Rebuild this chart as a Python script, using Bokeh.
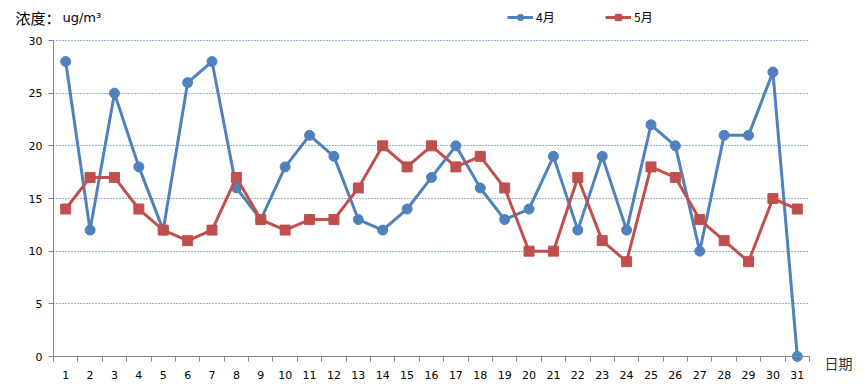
from bokeh.plotting import figure
from bokeh.models import Range1d, FixedTicker, Legend, LegendItem, Label
from bokeh.embed import file_html
from bokeh.resources import INLINE

days = list(range(1, 32))
april = [28, 12, 25, 18, 12, 26, 28, 16, 13, 18, 21, 19, 13, 12, 14, 17,
         20, 16, 13, 14, 19, 12, 19, 12, 22, 20, 10, 21, 21, 27, 0]
may = [14, 17, 17, 14, 12, 11, 12, 17, 13, 12, 13, 13, 16, 20, 18, 20,
       18, 19, 16, 10, 10, 17, 11, 9, 18, 17, 13, 11, 9, 15, 14]
y_ticks = [0, 5, 10, 15, 20, 25, 30]
series_names = ["4月", "5月"]
y_title_cn = "浓度："
y_title_unit = "ug/m³"
x_title = "日期"

BLUE = "#4F81BD"
RED = "#C0504D"
GRID = "#2F64AE"
AXIS = "#868686"
CJK = "Noto Sans CJK SC"
NUM = "DejaVu Sans"

# layout (pixels): whole canvas and the data area inside it
W, H = 865, 392
AL, AR, AT, AB = 53, 809, 40, 356

x0, x1 = days[0] - 0.5, days[-1] + 0.5
y0, y1 = y_ticks[0], y_ticks[-1]
kx = (x1 - x0) / (AR - AL)
ky = (y1 - y0) / (AB - AT)
x_range = Range1d(x0 - AL * kx, x1 + (W - AR) * kx)
y_range = Range1d(y0 - (H - AB) * ky, y1 + AT * ky)

p = figure(frame_width=W, frame_height=H, output_backend="svg", toolbar_location=None,
           x_range=x_range, y_range=y_range,
           min_border_left=0, min_border_right=0, min_border_top=0, min_border_bottom=0)
p.outline_line_color = None
p.xgrid.grid_line_color = None

p.yaxis.fixed_location = x0
p.yaxis.bounds = (y0, y1)
p.yaxis.ticker = FixedTicker(ticks=y_ticks)
p.yaxis.axis_line_color = AXIS
p.yaxis.major_tick_line_color = AXIS
p.yaxis.major_tick_out = 5
p.yaxis.major_tick_in = 0
p.yaxis.minor_tick_line_color = None
p.yaxis.major_label_standoff = 6
p.yaxis.major_label_text_font = NUM
p.yaxis.major_label_text_font_size = "11px"
p.yaxis.major_label_text_color = "#000000"

p.xaxis.fixed_location = y0
p.xaxis.bounds = (x0, x1)
p.xaxis.ticker = FixedTicker(ticks=days, minor_ticks=[d - 0.5 for d in days] + [x1])
p.xaxis.axis_line_color = AXIS
p.xaxis.major_tick_line_color = None
p.xaxis.major_tick_out = 5
p.xaxis.major_tick_in = 0
p.xaxis.minor_tick_line_color = AXIS
p.xaxis.minor_tick_out = 5
p.xaxis.minor_tick_in = 0
p.xaxis.major_label_standoff = 9
p.xaxis.major_label_text_font = NUM
p.xaxis.major_label_text_font_size = "11px"
p.xaxis.major_label_text_color = "#000000"

p.ygrid.ticker = FixedTicker(ticks=y_ticks[1:])
p.ygrid.grid_line_color = GRID
p.ygrid.grid_line_dash = "1 2"
p.ygrid.grid_line_width = 1.2
try:
    p.ygrid.cross_bounds = (x0, x1)
except AttributeError:
    p.ygrid.visible = False
    p.segment(x0=[x0] * (len(y_ticks) - 1), y0=y_ticks[1:], x1=[x1] * (len(y_ticks) - 1),
              y1=y_ticks[1:], line_color=GRID, line_dash="1 2", line_width=1.2)

l1 = p.line(days, april, line_width=3, color=BLUE)
s1 = p.scatter(days, april, marker="circle", size=10, color=BLUE)
l2 = p.line(days, may, line_width=3, color=RED)
s2 = p.scatter(days, may, marker="square", size=10, color=RED)

legend = Legend(items=[LegendItem(label=series_names[0], renderers=[l1, s1]),
                       LegendItem(label=series_names[1], renderers=[l2, s2])],
                orientation="horizontal", location=(507, H - 25),
                glyph_width=26, glyph_height=16, label_height=16, label_standoff=3,
                spacing=49, padding=0, margin=0, border_line_color=None,
                background_fill_alpha=0, label_text_font=CJK, label_text_font_size="12px",
                label_text_color="#000000")
p.add_layout(legend)

p.add_layout(Label(x=15, y=H - 17, x_units="screen", y_units="screen", text=y_title_cn,
                   text_font=CJK, text_font_size="15px", text_baseline="middle",
                   text_color="#000000"))
p.add_layout(Label(x=62, y=H - 17, x_units="screen", y_units="screen", text=y_title_unit,
                   text_font=NUM, text_font_size="13px", text_baseline="middle",
                   text_color="#000000"))
p.add_layout(Label(x=824, y=H - 362, x_units="screen", y_units="screen", text=x_title,
                   text_font=CJK, text_font_size="14px", text_baseline="middle",
                   text_color="#333333"))

open("out.html", "w").write(file_html(p, INLINE))
